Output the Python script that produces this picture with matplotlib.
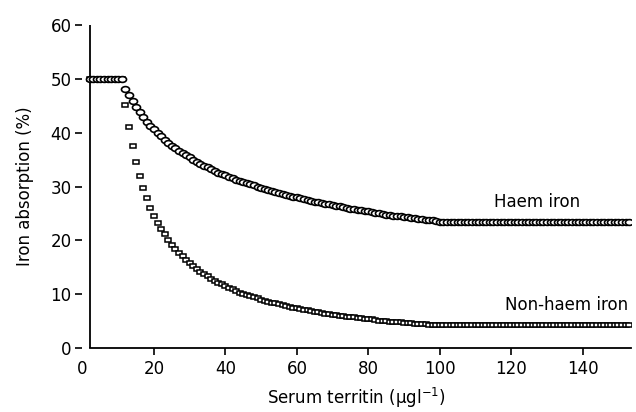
#!/usr/bin/env python3
# -*- coding: utf-8 -*-
"""
Iron absorption vs serum ferritin: haem and non-haem iron.
Saves out.png (636x412).
"""

import matplotlib
matplotlib.use("Agg")
import matplotlib.pyplot as plt
from matplotlib.markers import MarkerStyle
from matplotlib.transforms import Affine2D

# serum ferritin values (one point per ug/l)
ferritin = list(range(2, 154))

# plateau at low ferritin (2..11)
plateau = [50.0, 50.0, 50.0, 50.0, 50.0, 50.0, 50.0, 50.0, 50.0, 50.0]

# haem iron absorption (%), ferritin 12..100
haem_curve = [
    48.2, 47.0, 45.8, 44.7, 43.8, 42.9, 42.0, 41.3, 40.6, 39.9,
    39.3, 38.7, 38.1, 37.6, 37.1, 36.6, 36.2, 35.8, 35.4, 35.0,
    34.6, 34.2, 33.9, 33.6, 33.2, 32.9, 32.6, 32.3, 32.1, 31.8,
    31.5, 31.3, 31.1, 30.8, 30.6, 30.4, 30.2, 29.9, 29.7, 29.5,
    29.3, 29.2, 29.0, 28.8, 28.6, 28.4, 28.3, 28.1, 28.0, 27.8,
    27.6, 27.5, 27.3, 27.2, 27.1, 26.9, 26.8, 26.7, 26.5, 26.4,
    26.3, 26.2, 26.0, 25.9, 25.8, 25.7, 25.6, 25.5, 25.4, 25.2,
    25.1, 25.0, 24.9, 24.8, 24.7, 24.6, 24.5, 24.5, 24.4, 24.3,
    24.2, 24.1, 24.0, 23.9, 23.8, 23.8, 23.7, 23.6, 23.5,
]
haem_tail = [23.5] * 53  # flat from 101 to 153

# non-haem iron absorption (%), ferritin 12..100
nonhaem_curve = [
    45.2, 41.0, 37.5, 34.6, 32.0, 29.8, 27.8, 26.1, 24.6, 23.3,
    22.2, 21.1, 20.1, 19.2, 18.4, 17.7, 17.0, 16.4, 15.8, 15.2,
    14.7, 14.2, 13.7, 13.3, 12.9, 12.5, 12.1, 11.8, 11.5, 11.2,
    10.9, 10.6, 10.3, 10.1, 9.8, 9.6, 9.4, 9.2, 9.0, 8.8,
    8.6, 8.4, 8.3, 8.1, 7.9, 7.8, 7.6, 7.5, 7.4, 7.2,
    7.1, 7.0, 6.8, 6.7, 6.6, 6.5, 6.4, 6.3, 6.2, 6.1,
    6.0, 5.9, 5.8, 5.8, 5.7, 5.6, 5.5, 5.4, 5.4, 5.3,
    5.2, 5.1, 5.1, 5.0, 4.9, 4.9, 4.8, 4.8, 4.7, 4.7,
    4.6, 4.5, 4.5, 4.4, 4.4, 4.3, 4.3, 4.2, 4.2,
]
nonhaem_tail = [4.2] * 53

haem = plateau + haem_curve + haem_tail
nonhaem = plateau + nonhaem_curve + nonhaem_tail

x_ticks = [0, 20, 40, 60, 80, 100, 120, 140]
y_ticks = [0, 10, 20, 30, 40, 50, 60]


def main():
    plt.rcParams["font.family"] = ["DejaVu Sans"]
    plt.rcParams["mathtext.fontset"] = "dejavusans"

    fig = plt.figure(figsize=(6.36, 4.12), dpi=100)
    ax = fig.add_axes([0.1297, 0.1553, 0.8624, 0.784])

    # markers look slightly squashed in the original
    circ = MarkerStyle("o", transform=Affine2D().scale(1.0, 0.72))
    sq = MarkerStyle("s", transform=Affine2D().scale(1.0, 0.65))

    ax.plot(ferritin, nonhaem, linestyle="none", marker=sq, markersize=4.8,
            markerfacecolor="white", markeredgecolor="black",
            markeredgewidth=1.1, zorder=3)
    ax.plot(ferritin, haem, linestyle="none", marker=circ, markersize=5.8,
            markerfacecolor="white", markeredgecolor="black",
            markeredgewidth=1.2, zorder=4)

    ax.set_xlim(0, 153.5)
    ax.set_ylim(0, 60)

    # y axis line sits a bit right of x=0, ticks stay at the edge
    ax.spines["left"].set_visible(False)
    ax.spines["top"].set_visible(False)
    ax.spines["right"].set_visible(False)
    ax.spines["bottom"].set_linewidth(1.3)
    ax.spines["bottom"].set_bounds(2, 153.5)
    ax.axvline(2, color="black", linewidth=1.3, zorder=2)

    ax.set_xticks(x_ticks)
    ax.set_yticks(y_ticks)
    ax.tick_params(axis="both", direction="out", width=1.2, labelsize=12,
                   color="black")
    ax.tick_params(axis="y", length=5, pad=3)
    ax.tick_params(axis="x", length=5, pad=3.5)
    ax.xaxis.get_major_ticks()[0].tick1line.set_visible(False)

    ax.set_xlabel("Serum territin (µgl$^{-1}$)", fontsize=12, labelpad=6)
    ax.set_ylabel("Iron absorption (%)", fontsize=12, labelpad=12)

    ax.text(127.2, 27.2, "Haem iron", fontsize=12, ha="center", va="center")
    ax.text(135.6, 8.0, "Non-haem iron", fontsize=12, ha="center",
            va="center")

    fig.savefig("out.png", dpi=100)
    plt.close(fig)


if __name__ == "__main__":
    main()
